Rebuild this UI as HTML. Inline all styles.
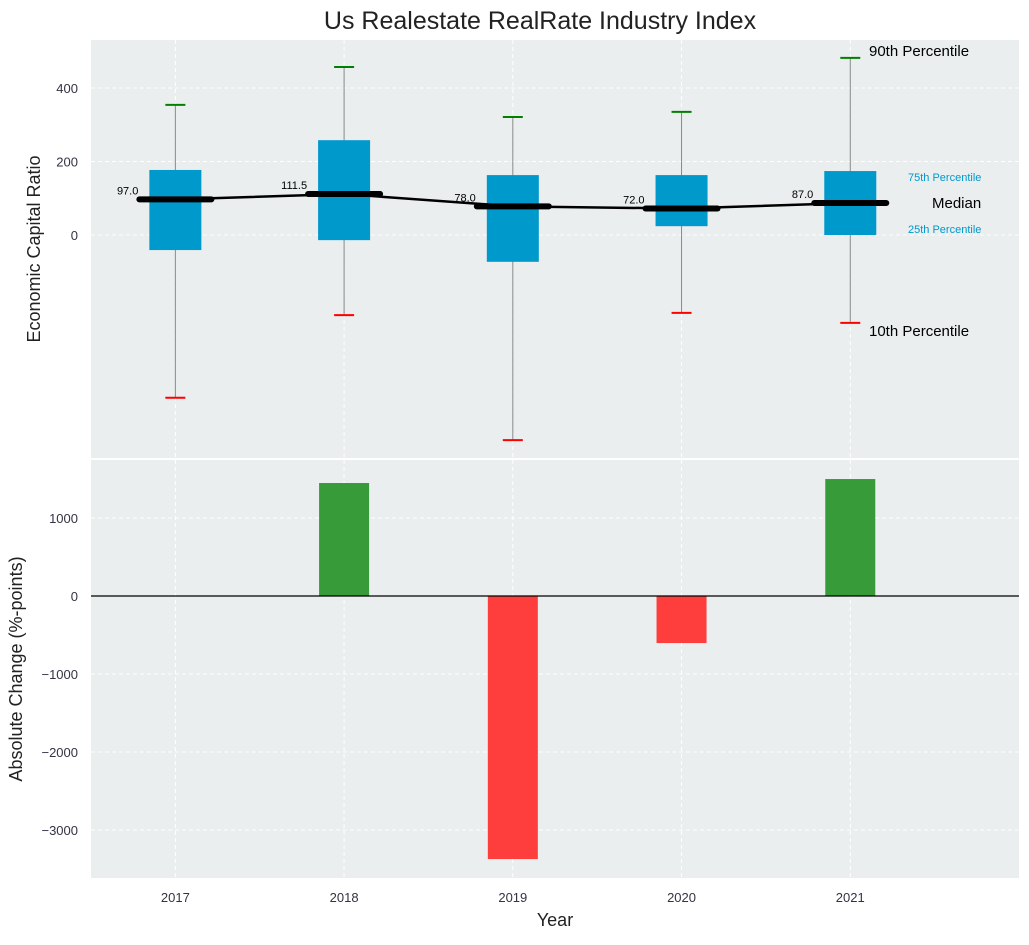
<!DOCTYPE html>
<html><head><meta charset="utf-8"><style>
body{margin:0;background:#fff;font-family:"Liberation Sans",sans-serif}
svg text{font-family:"Liberation Sans",sans-serif}
</style></head><body>
<svg id="c" width="1029" height="940" xmlns="http://www.w3.org/2000/svg"></svg>
<script>
const years=[2017,2018,2019,2020,2021];
const p90=[354,457,321,335,482];
const p75=[177,258,163,163,174];
const median=[97,111.5,78,72,87];
const p25=[-41,-14,-73,24,0];
const p10=[-443,-218,-558,-212,-239];
const change=[0,1449,-3372,-603,1500];
const topTicks=[0,200,400];
const botTicks=[-3000,-2000,-1000,0,1000];

const NS='http://www.w3.org/2000/svg';
const svg=document.getElementById('c');
function el(t,a,p){const e=document.createElementNS(NS,t);for(const k in a)e.setAttribute(k,a[k]);(p||svg).appendChild(e);return e;}
const L=91,R=1019;
const x=v=>L+(v-2016.5)/(5.5)*(R-L);
const T0=40,T1=458,yT=v=>T0+(530.6-v)/(530.6+606.8)*(T1-T0);
const B0=460,B1=878,yB=v=>B0+(1744-v)/(1744+3615)*(B1-B0);

let t=el('text',{x:540,y:29,'text-anchor':'middle','font-size':25,fill:'#222'});t.textContent='Us Realestate RealRate Industry Index';


// top panel
let g=el('g',{});
el('rect',{x:L,y:T0,width:R-L,height:T1-T0,fill:'#eaeeee'},g);
years.forEach(yv=>el('line',{x1:x(yv),x2:x(yv),y1:T0,y2:T1,stroke:'#fff','stroke-dasharray':'4,3'},g));
topTicks.forEach(v=>{el('line',{x1:L,x2:R,y1:yT(v),y2:yT(v),stroke:'#fff','stroke-dasharray':'4,3'},g);
 const tt=el('text',{x:78,y:yT(v)+5,'text-anchor':'end','font-size':13,fill:'#334'},g);tt.textContent=v;});
years.forEach((yv,i)=>{const cx=x(yv),hw=26;
 const w=el('line',{x1:cx,x2:cx,y1:yT(p90[i]),y2:yT(p10[i]),stroke:'#888','stroke-width':1},g);
 
 const b=el('rect',{x:cx-hw,y:yT(p75[i]),width:2*hw,height:yT(p25[i])-yT(p75[i]),fill:'#0099cc'},g);
 
 el('line',{x1:cx-10,x2:cx+10,y1:yT(p90[i]),y2:yT(p90[i]),stroke:'green','stroke-width':2},g);
 el('line',{x1:cx-10,x2:cx+10,y1:yT(p10[i]),y2:yT(p10[i]),stroke:'red','stroke-width':2},g);
 el('line',{x1:cx-36,x2:cx+36,y1:yT(median[i]),y2:yT(median[i]),stroke:'#000','stroke-width':6,'stroke-linecap':'round'},g);
 const lt=el('text',{x:cx-37,y:yT(median[i])-5,'text-anchor':'end','font-size':11,fill:'#000'},g);lt.textContent=median[i].toFixed(1);
});
const ml=el('polyline',{points:years.map((yv,i)=>x(yv)+','+yT(median[i])).join(' '),fill:'none',stroke:'#000','stroke-width':2.5},g);

[['90th Percentile',869,56,15,'#000'],['75th Percentile',908,181,11,'#0099cc'],['Median',932,208,15,'#000'],['25th Percentile',908,233,11,'#0099cc'],['10th Percentile',869,336,15,'#000']].forEach(a=>{
 const tt=el('text',{x:a[1],y:a[2],'font-size':a[3],fill:a[4]},g);tt.textContent=a[0];});
t=el('text',{x:0,y:0,transform:'translate(40,249) rotate(-90)','text-anchor':'middle','font-size':18,fill:'#222'});t.textContent='Economic Capital Ratio';

// bottom panel
g=el('g',{});
el('rect',{x:L,y:B0,width:R-L,height:B1-B0,fill:'#eaeeee'},g);
years.forEach(yv=>el('line',{x1:x(yv),x2:x(yv),y1:B0,y2:B1,stroke:'#fff','stroke-dasharray':'4,3'},g));
botTicks.forEach(v=>{el('line',{x1:L,x2:R,y1:yB(v),y2:yB(v),stroke:'#fff','stroke-dasharray':'4,3'},g);
 const tt=el('text',{x:78,y:yB(v)+5,'text-anchor':'end','font-size':13,fill:'#334'},g);tt.textContent=(v<0?'\u2212'+(-v):v);});
years.forEach((yv,i)=>{const v=change[i];if(v===0)return;
 const r=el('rect',{x:x(yv)-25,y:Math.min(yB(v),yB(0)),width:50,height:Math.abs(yB(v)-yB(0)),fill:v>0?'#2e962e':'#ff3333','fill-opacity':0.95},g);
 });
el('line',{x1:L,x2:R,y1:yB(0),y2:yB(0),stroke:'#000','stroke-width':1.2},g);
years.forEach(yv=>{const tt=el('text',{x:x(yv),y:902,'text-anchor':'middle','font-size':13,fill:'#334'},g);tt.textContent=yv;});
t=el('text',{x:0,y:0,transform:'translate(22,669) rotate(-90)','text-anchor':'middle','font-size':18,fill:'#222'});t.textContent='Absolute Change (%-points)';
t=el('text',{x:555,y:926,'text-anchor':'middle','font-size':18,fill:'#222'});t.textContent='Year';
</script>
</body></html>
